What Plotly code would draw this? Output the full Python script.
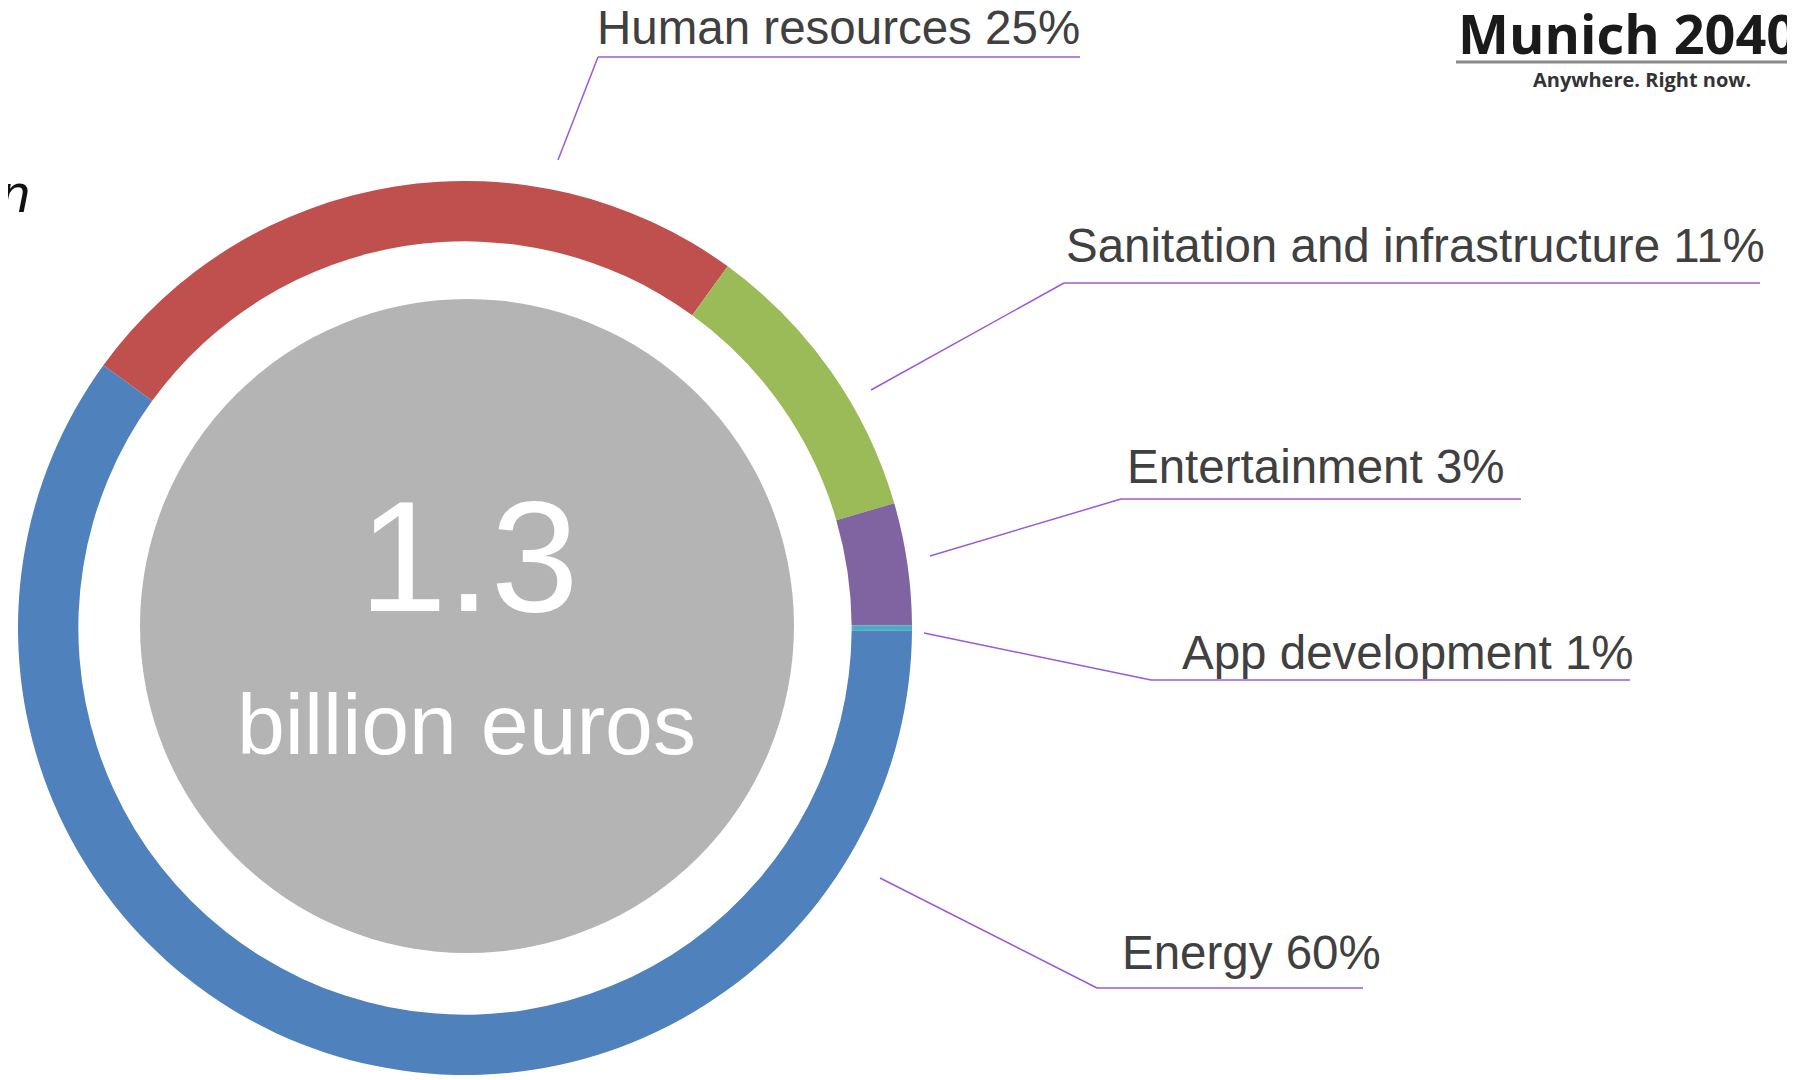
import plotly.graph_objects as go

W, H = 1795, 1080
OFF = 8  # default page body margin in the browser

# ---- data ----
categories = ["Human resources", "Sanitation and infrastructure", "Entertainment",
              "App development", "Energy"]
values = [25.0, 10.5, 4.4, 0.2, 59.9]          # slice sizes as read from the ring
label_pct = ["25%", "11%", "3%", "1%", "60%"]  # percentages printed in labels
colors = ["#C0504D", "#9BBB59", "#8064A2", "#4BACC6", "#4F81BD"]
total_value = "1.3"
total_unit = "billion euros"


def X(px):
    return (px - OFF) / W


def Y(py):
    return 1 - (py - OFF) / H


# ring geometry (pixels)
cx, cy, r_out = 465, 628, 447

fig = go.Figure()
fig.add_trace(go.Pie(
    labels=categories,
    values=values,
    marker=dict(colors=colors, line=dict(width=0)),
    hole=0.865,
    sort=False,
    direction="clockwise",
    rotation=-54,
    textinfo="none",
    hoverinfo="label+percent",
    showlegend=False,
    domain=dict(x=[X(cx - r_out), X(cx + r_out)],
                y=[Y(cy + r_out), Y(cy - r_out)]),
))

shapes = []
# grey centre disc
gcx, gcy, gr = 467, 626, 327
shapes.append(dict(type="circle", xref="paper", yref="paper",
                   x0=X(gcx - gr), x1=X(gcx + gr), y0=Y(gcy + gr), y1=Y(gcy - gr),
                   fillcolor="#B4B4B4", line=dict(width=0), layer="above"))

# label positions: (text_left_x, middle_y, underline_x0, underline_x1, underline_y, leader_end_x, leader_end_y)
label_layout = [
    (595, 28, 598, 1080, 57, 558, 160),
    (1064, 245, 1064, 1760, 283, 871, 390),
    (1125, 466, 1121, 1521, 499, 930, 556),
    (1180, 652, 1151, 1630, 680, 924, 633),
    (1120, 952, 1097, 1363, 988, 880, 878),
]
line_col = "#9B59D9"
annotations = []
for cat, pct, (tx, ty, ux0, ux1, uy, lx, ly) in zip(categories, label_pct, label_layout):
    annotations.append(dict(text=f"{cat} {pct}", x=X(tx), y=Y(ty), xref="paper", yref="paper",
                            xanchor="left", yanchor="middle", showarrow=False,
                            font=dict(family="Liberation Sans, Arial", size=47.5, color="#404040")))
    shapes.append(dict(type="line", xref="paper", yref="paper",
                       x0=X(ux0), x1=X(ux1), y0=Y(uy), y1=Y(uy),
                       line=dict(color=line_col, width=1.5)))
    shapes.append(dict(type="line", xref="paper", yref="paper",
                       x0=X(ux0), x1=X(lx), y0=Y(uy), y1=Y(ly),
                       line=dict(color=line_col, width=1.5)))

# centre text
annotations.append(dict(text=total_value, x=X(469), y=Y(556), xref="paper", yref="paper",
                        xanchor="center", yanchor="middle", showarrow=False,
                        font=dict(family="Liberation Sans, Arial", size=158, color="white")))
annotations.append(dict(text=total_unit, x=X(466), y=Y(724), xref="paper", yref="paper",
                        xanchor="center", yanchor="middle", showarrow=False,
                        font=dict(family="Liberation Sans, Arial", size=86, color="white")))

# cut-off italic title fragment at the left edge
annotations.append(dict(text="<i>n</i>", x=X(32), y=Y(193), xref="paper", yref="paper",
                        xanchor="right", yanchor="middle", showarrow=False,
                        font=dict(family="Liberation Sans, Arial", size=54, color="#111111")))

# logo
annotations.append(dict(text="<b>Munich 2040</b>", x=X(1456), y=Y(33), xref="paper", yref="paper",
                        xanchor="left", yanchor="middle", showarrow=False,
                        font=dict(family="Open Sans", size=54, color="#1A1A1A")))
annotations.append(dict(text="<b>Anywhere. Right now.</b>", x=X(1642), y=Y(79), xref="paper",
                        yref="paper", xanchor="center", yanchor="middle", showarrow=False,
                        font=dict(family="Open Sans", size=20, color="#333333")))
shapes.append(dict(type="line", xref="paper", yref="paper",
                   x0=X(1456), x1=X(1795), y0=Y(62), y1=Y(62),
                   line=dict(color="#8A8A8A", width=3)))

fig.update_layout(
    width=W, height=H,
    margin=dict(l=0, r=0, t=0, b=0),
    paper_bgcolor="white",
    plot_bgcolor="white",
    shapes=shapes,
    annotations=annotations,
)

fig.write_html("out.html")
